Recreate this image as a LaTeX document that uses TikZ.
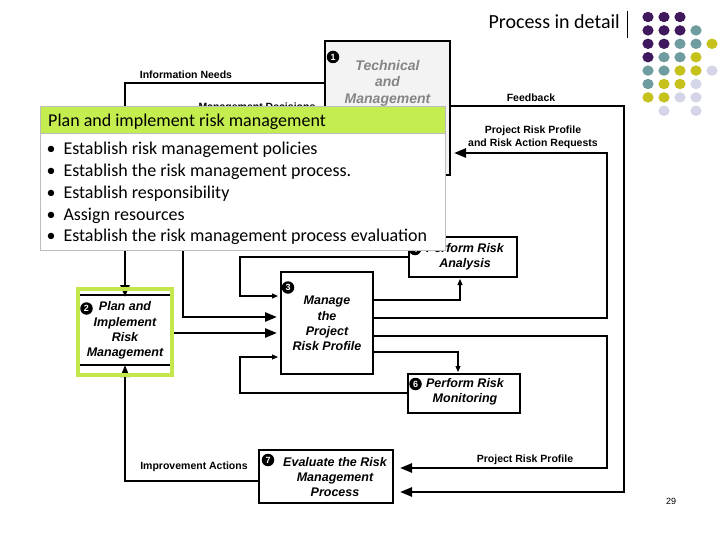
\documentclass[tikz,border=0pt]{standalone}
\usepackage{fontspec}
\setmainfont{Carlito}
\newfontfamily\arialf{Liberation Sans}
\usetikzlibrary{arrows.meta,calc}
\definecolor{dpurple}{HTML}{40185E}
\definecolor{dteal}{HTML}{6F9D9F}
\definecolor{dyellow}{HTML}{C6C21C}
\definecolor{dlav}{HTML}{D5D5E8}
\definecolor{limehead}{HTML}{C4EE50}
\definecolor{limeb}{HTML}{C4E84C}
\definecolor{boxgray}{HTML}{F3F3F3}
\definecolor{txtgray}{HTML}{858585}
\definecolor{ovborder}{HTML}{BDBDBD}
\begin{document}
\begin{tikzpicture}[x=1pt,y=-1pt,
 box/.style={draw=black,line width=1.3pt,fill=white,inner sep=0pt,outer sep=0pt,anchor=north west},
 btxt/.style={font=\arialf\bfseries\itshape\fontsize{12.5}{15.2}\selectfont,align=center,inner sep=0pt},
 lbl/.style={font=\arialf\bfseries\fontsize{10.5}{13}\selectfont,align=center,inner sep=0pt},
 numc/.style={circle,fill=black,text=white,inner sep=0pt,minimum size=12.5pt,font=\arialf\bfseries\fontsize{9}{9}\selectfont},
 flowA/.style={line width=2.5pt},
 flowB/.style={line width=2pt},
 flowC/.style={line width=1.1pt},
 bigarr/.style={-{Triangle[length=12pt,width=9pt]}},
 smallarr/.style={-{Triangle[length=6pt,width=5pt]}},
 ovtxt/.style={font=\fontsize{18}{18}\selectfont,anchor=base west,inner sep=0pt},
]
\fill[white] (0,0) rectangle (720,540);
\useasboundingbox (0,0) rectangle (720,540);

% title
\node[font=\fontsize{20}{20}\selectfont,anchor=base east,inner sep=0pt] (title) at (620,29) {Process in detail};
\coordinate (vt) at (627,11);
\coordinate (vb) at (627,38);
\draw[line width=1pt] (vt) -- (vb);

% dots
\foreach \c/\i/\j in {dpurple/0/0,dpurple/1/0,dpurple/2/0,
  dpurple/0/1,dpurple/1/1,dpurple/2/1,dteal/3/1,
  dpurple/0/2,dpurple/1/2,dteal/2/2,dteal/3/2,dyellow/4/2,
  dpurple/0/3,dteal/1/3,dteal/2/3,dyellow/3/3,
  dteal/0/4,dteal/1/4,dyellow/2/4,dyellow/3/4,dlav/4/4,
  dteal/0/5,dyellow/1/5,dyellow/2/5,dlav/3/5,
  dyellow/0/6,dyellow/1/6,dlav/2/6,dlav/3/6,
  dlav/1/7,dlav/3/7}
  \fill[\c] (648+16*\i,17+13.4*\j) ellipse (5.6pt and 5.2pt);

% boxes
\node[box,fill=boxgray,minimum width=125pt,minimum height=134pt] (b1) at (325,41) {};
\node[btxt,font=\arialf\bfseries\itshape\fontsize{14}{16.5}\selectfont,text=txtgray,anchor=north] (b1t) at (387.5,60) {Technical\\and\\Management};
\node[numc] (n1) at (333,57) {1};

\node[box,draw=limeb,line width=4pt,minimum width=94pt,minimum height=86pt] (b2) at (78,289) {};
\node[btxt] (b2t) at (125,330.5) {Plan and\\Implement\\Risk\\Management};
\node[numc] (n2) at (86.5,308.5) {2};
\draw[line width=1.2pt] ($(b2.north west)+(2,6)$) -- ($(b2.north east)+(-2,6)$);
\draw[line width=1.2pt] ($(b2.south west)+(2,-10)$) -- ($(b2.south east)+(-2,-10)$);

\node[box,minimum width=92pt,minimum height=102pt] (b3) at (281,272) {};
\node[btxt] (b3t) at (327,323.5) {Manage\\the\\Project\\Risk Profile};
\node[numc] (n3) at (288,287.5) {3};

\node[box,minimum width=108pt,minimum height=40pt] (b4) at (409,237) {};
\node[btxt] (b4t) at (465,256.5) {Perform Risk\\Analysis};
\node[numc] (n4) at (415,249) {4};

\node[box,minimum width=112pt,minimum height=39pt] (b6) at (408,374) {};
\node[btxt] (b6t) at (465,391.5) {Perform Risk\\Monitoring};
\node[numc] (n6) at (415.5,384) {6};

\node[box,minimum width=134pt,minimum height=53pt] (b7) at (259,450) {};
\node[btxt] (b7t) at (335,477) {Evaluate the Risk\\Management\\Process};
\node[numc] (n7) at (268,460) {7};

% labels
\node[lbl] (lInfo) at (186,75) {Information Needs};
\node[lbl] (lMgmt) at (257,108) {Management Decisions};
\node[lbl] (lFeed) at (531,98) {Feedback};
\node[lbl] (lPRP) at (533,137.5) {Project Risk Profile\\and Risk Action Requests};
\node[lbl] (lPRP2) at (525,460) {Project Risk Profile};
\node[lbl] (lImp) at (194,467) {Improvement Actions};

% connectors
\draw[flowA,bigarr] (b1.west |- 0,83) -| ($(b2.north)+(0,8)$);
\draw[flowA,bigarr,shorten >=4pt] (b1.west |- 0,120) -| (183,317) -- (b3.west |- 0,317);
\draw[flowA,bigarr,shorten >=4pt] (b2.east |- 0,333) -- (b3.west |- 0,333);
\draw[flowC,smallarr,shorten >=3pt] (b4.west |- 0,257) -| (240,296) -- (b3.west |- 0,296);
\draw[flowC,smallarr,shorten >=3pt] (b6.west |- 0,393) -| (240,357) -- (b3.west |- 0,357);
\draw[flowC,smallarr] (b3.east |- 0,300) -| ($(b4.south -| 460,0)+(0,2)$);
\draw[flowC,smallarr] (b3.east |- 0,352) -| ($(b6.north -| 458,0)+(0,-2)$);
\draw[flowA,bigarr] (b3.east |- 0,318) -| (607,153) -- ($(b1.east |- 0,153)+(4,0)$);
\draw[flowA,bigarr] (b3.east |- 0,336) -| (607,468) -- ($(b7.east |- 0,468)+(7,0)$);
\draw[flowA,bigarr] (b1.east |- 0,106) -| (624,492) -- ($(b7.east |- 0,492)+(7,0)$);
\draw[flowB,bigarr] (b7.west |- 0,481) -| ($(b2.south)+(0,-10)$);
% redraw green frame on top
\draw[limeb,line width=4pt] (b2.north west) rectangle (b2.south east);

% overlay
\node[draw=ovborder,line width=0.8pt,fill=white,minimum width=405pt,minimum height=117pt,anchor=north west,inner sep=0pt,outer sep=0pt] (ov) at (40,133) {};
\node[draw=ovborder,line width=0.8pt,fill=limehead,minimum width=405pt,minimum height=27pt,anchor=north west,inner sep=0pt,outer sep=0pt] (ovh) at (40,106.5) {};
\node[ovtxt] (ovt) at (48,127) {Plan and implement risk management};
\foreach \k/\t in {0/Establish risk management policies,
                   1/Establish the risk management process.,
                   2/Establish responsibility,
                   3/Assign resources,
                   4/Establish the risk management process evaluation}{
  \node[ovtxt] (bul\k) at (46.5,155+21.7*\k) {\textbullet};
  \node[ovtxt] (it\k) at (63.3,155+21.7*\k) {\t};
}

% page number
\node[font=\arialf\fontsize{9}{9}\selectfont,inner sep=0pt] (pg) at (671,501) {29};
\end{tikzpicture}
\end{document}
